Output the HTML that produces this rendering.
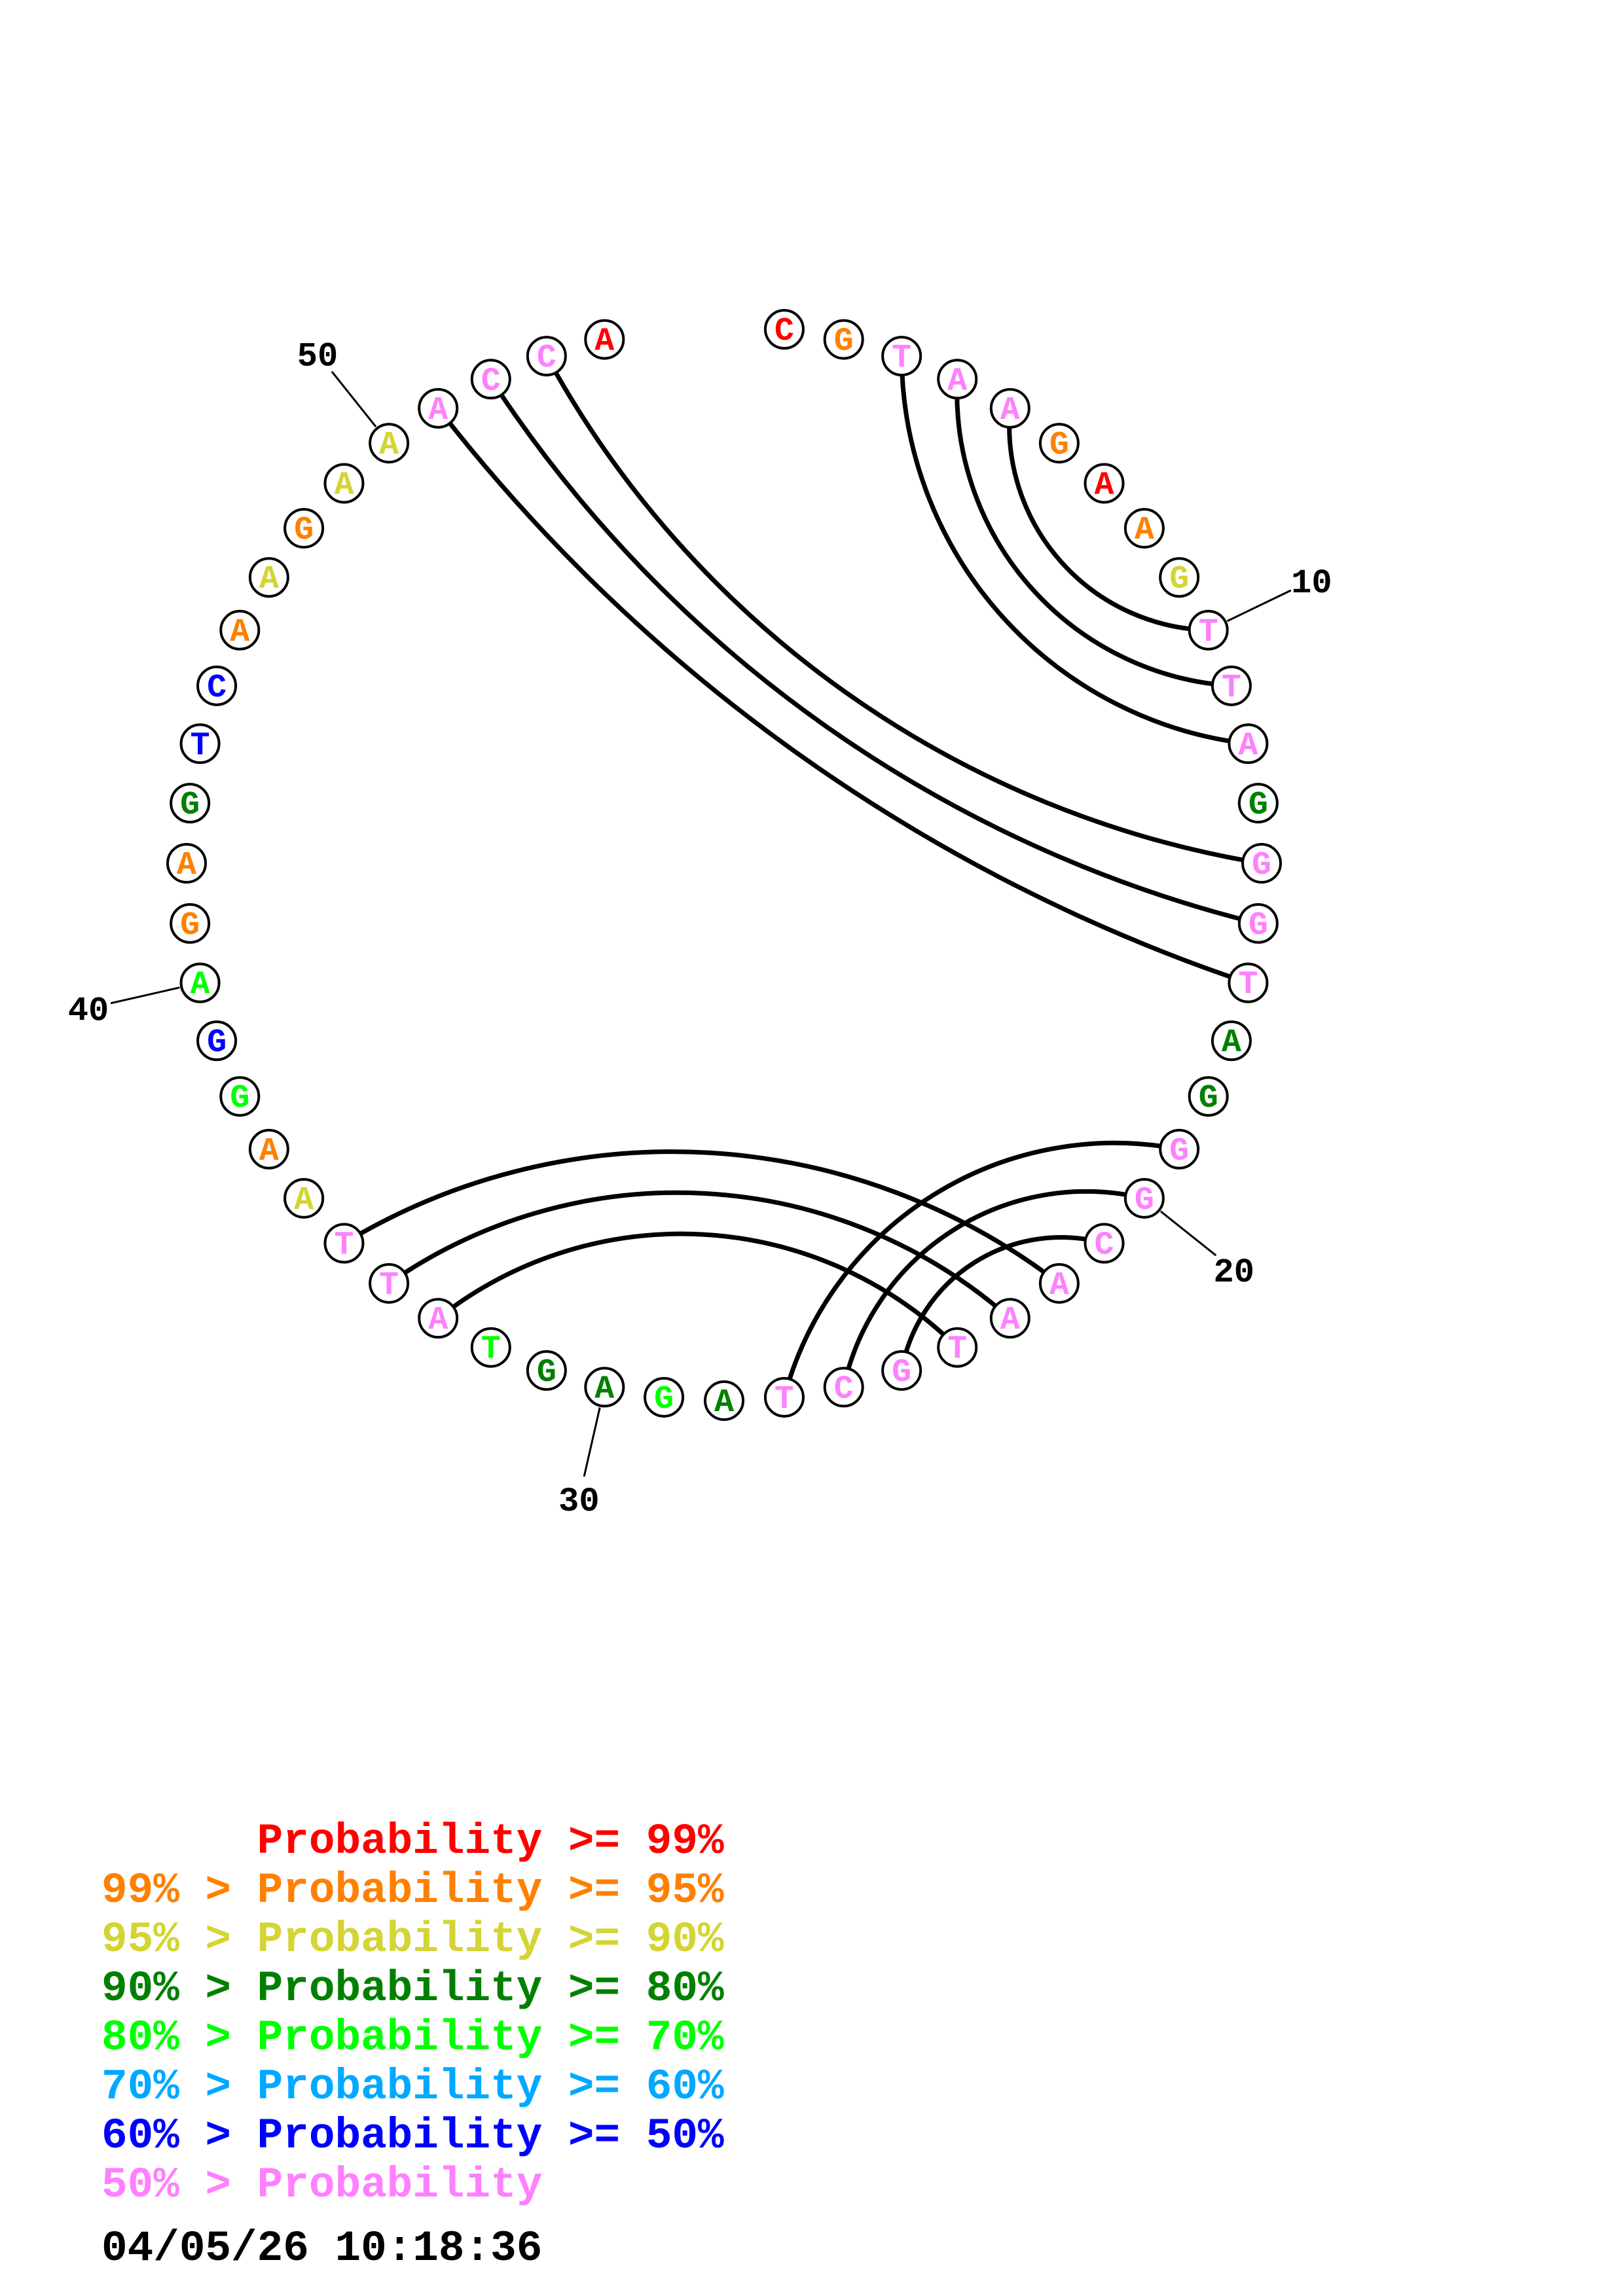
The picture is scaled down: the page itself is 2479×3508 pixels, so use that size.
<!DOCTYPE html>
<html><head><meta charset="utf-8">
<style>
html,body{margin:0;padding:0;background:#fff;}
svg{display:block;}
.n{font-family:"Liberation Mono",monospace;font-weight:bold;font-size:50px;}
.lb{font-family:"Liberation Mono",monospace;font-weight:bold;font-size:52px;fill:#000;}
.lg{font-family:"Liberation Mono",monospace;font-weight:bold;font-size:66px;white-space:pre;}
</style></head>
<body>
<svg id="s" width="2479" height="3508" viewBox="0 0 2479 3508" xmlns="http://www.w3.org/2000/svg">
<g id="arcs" fill="none" stroke="#000" stroke-width="7"></g>
<g id="ticks" stroke="#000" stroke-width="3"></g>
<g id="nodes"></g>
<g id="labels"></g>
<g>
<text class="lg" x="155" y="2831" fill="#ff0000" xml:space="preserve">      Probability &gt;= 99%</text>
<text class="lg" x="155" y="2906" fill="#ff8000" xml:space="preserve">99% &gt; Probability &gt;= 95%</text>
<text class="lg" x="155" y="2981" fill="#d4d435" xml:space="preserve">95% &gt; Probability &gt;= 90%</text>
<text class="lg" x="155" y="3056" fill="#008000" xml:space="preserve">90% &gt; Probability &gt;= 80%</text>
<text class="lg" x="155" y="3131" fill="#00ff00" xml:space="preserve">80% &gt; Probability &gt;= 70%</text>
<text class="lg" x="155" y="3206" fill="#00a8ff" xml:space="preserve">70% &gt; Probability &gt;= 60%</text>
<text class="lg" x="155" y="3281" fill="#0000ff" xml:space="preserve">60% &gt; Probability &gt;= 50%</text>
<text class="lg" x="155" y="3356" fill="#ff80ff" xml:space="preserve">50% &gt; Probability</text>
<text class="lg" x="155" y="3453" fill="#000000" xml:space="preserve">04/05/26 10:18:36</text>
</g>
</svg>
<script>
(function(){
var NS="http://www.w3.org/2000/svg";
var cx=1106, cy=1319, R=821, step=360/56;
var seq="CGTAAGAAGT"+"TAGGGTAGGG"+"CAATGCTAGA"+"GTATTAAGGA"+"GAGTCAAGAA"+"ACCA";
var R_="#ff0000",O="#ff8000",Y="#d4d435",D="#008000",G="#00ff00",B="#0000ff",P="#ff80ff";
var col=[R_,O,P,P,P,O,R_,O,Y,P, P,P,D,P,P,P,D,D,P,P, P,P,P,P,P,P,P,D,G,D, D,G,P,P,P,Y,O,G,B,G, O,O,D,B,B,O,Y,O,Y,Y, P,P,P,R_];
function ang(k){return (k-14)*step*Math.PI/180;}
function pt(k,r){var a=ang(k);return [cx+r*Math.cos(a),cy+r*Math.sin(a)];}
function el(t,attrs,parent,txt){var e=document.createElementNS(NS,t);for(var k in attrs)e.setAttribute(k,attrs[k]);if(txt!==undefined)e.textContent=txt;document.getElementById(parent).appendChild(e);return e;}
var pairs=[[3,12],[4,11],[5,10],[51,72],[52,71],[53,70],[19,27],[20,26],[21,25],[22,35],[23,34],[24,33]];
pairs.forEach(function(p){
 var a=p[0],b=p[1];
 var d=(b-a)*step*Math.PI/180;
 var r=1.32*R*Math.tan(d/2);
 var p1=pt(a,R),p2=pt(b,R);
 el("path",{d:"M"+p1[0].toFixed(1)+" "+p1[1].toFixed(1)+" A"+r.toFixed(1)+" "+r.toFixed(1)+" 0 0 0 "+p2[0].toFixed(1)+" "+p2[1].toFixed(1)},"arcs");
});
[10,20,30,40,50].forEach(function(k){
 var a=pt(k,R+32),b=pt(k,R+140),c=pt(k,R+175);
 el("line",{x1:a[0],y1:a[1],x2:b[0],y2:b[1]},"ticks");
 el("text",{x:c[0],y:c[1]+18,"text-anchor":"middle","class":"lb"},"labels",String(k));
});
for(var i=1;i<=54;i++){
 var q=pt(i,R);
 el("circle",{cx:q[0],cy:q[1],r:29,fill:"#fff",stroke:"#000","stroke-width":4},"nodes");
 el("text",{x:q[0],y:q[1]+16,"text-anchor":"middle","class":"n",fill:col[i-1]},"nodes",seq[i-1]);
}
})();
</script>
</body></html>
